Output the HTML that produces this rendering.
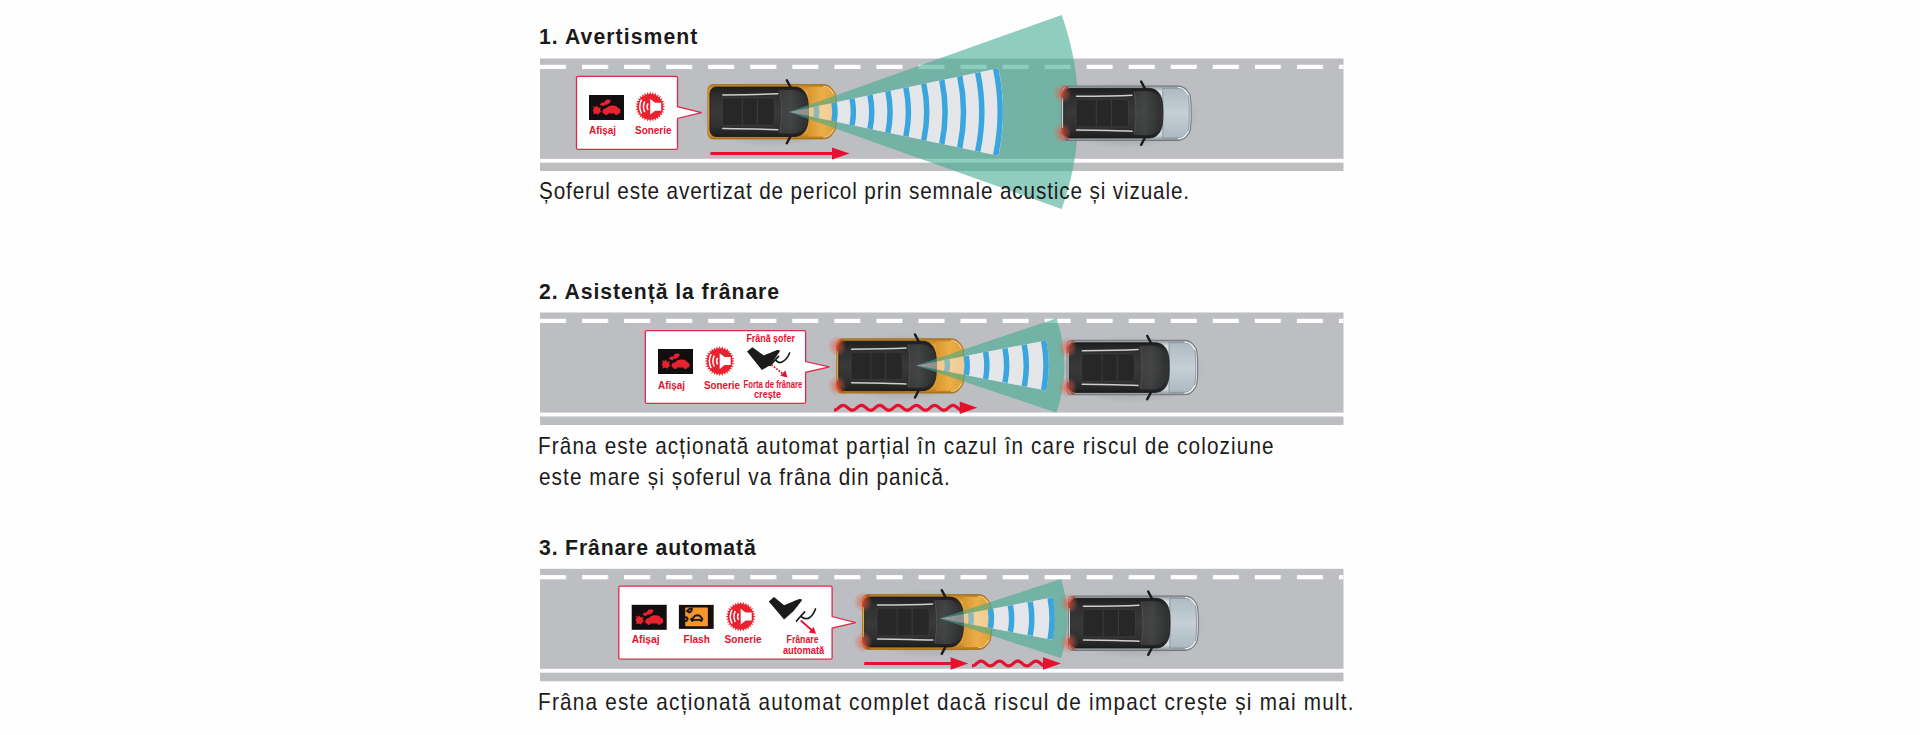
<!DOCTYPE html>
<html><head><meta charset="utf-8">
<style>
html,body{margin:0;padding:0;background:#fefefe;width:1920px;height:735px;overflow:hidden}
svg{display:block}
.h{font-family:"Liberation Sans",sans-serif;font-weight:700;font-size:22.8px;fill:#1a1a1a}
.t{font-family:"Liberation Sans",sans-serif;font-weight:400;font-size:23px;fill:#1c1c1c}
.lb{font-family:"Liberation Sans",sans-serif;font-weight:700;fill:#e5112e}
</style></head>
<body>
<svg width="1920" height="735" viewBox="0 0 1920 735">
<defs>
  <pattern id="dash" x="540" y="0" width="42.05" height="10" patternUnits="userSpaceOnUse">
    <rect x="0" y="0" width="26" height="10" fill="#fff"/>
  </pattern>

<linearGradient id="gOr" x1="0" y1="0" x2="0" y2="1">
  <stop offset="0" stop-color="#b97c1e"/><stop offset="0.12" stop-color="#e3a238"/>
  <stop offset="0.5" stop-color="#eeb14a"/><stop offset="0.88" stop-color="#dd9a30"/><stop offset="1" stop-color="#b5781c"/>
</linearGradient>
<linearGradient id="gHoodOr" x1="0" y1="0" x2="1" y2="0">
  <stop offset="0" stop-color="#d99630"/><stop offset="0.5" stop-color="#eaae48"/><stop offset="1" stop-color="#e0a03a"/>
</linearGradient>
<linearGradient id="gSv" x1="0" y1="0" x2="0" y2="1">
  <stop offset="0" stop-color="#8c9499"/><stop offset="0.1" stop-color="#d6dde1"/>
  <stop offset="0.5" stop-color="#e0e6e9"/><stop offset="0.9" stop-color="#d2d9dd"/><stop offset="1" stop-color="#868e93"/>
</linearGradient>
<linearGradient id="gHoodSv" x1="0" y1="0" x2="0" y2="1">
  <stop offset="0" stop-color="#aebbc2"/><stop offset="0.5" stop-color="#c4d0d6"/><stop offset="1" stop-color="#acb9c0"/>
</linearGradient>
<linearGradient id="gCab" x1="0" y1="0" x2="0" y2="1">
  <stop offset="0" stop-color="#1e1e1e"/><stop offset="0.2" stop-color="#303030"/><stop offset="0.5" stop-color="#393939"/><stop offset="0.8" stop-color="#303030"/><stop offset="1" stop-color="#1e1e1e"/>
</linearGradient>
<linearGradient id="gWind" x1="0" y1="0" x2="1" y2="0">
  <stop offset="0" stop-color="#414243"/><stop offset="0.4" stop-color="#4c4e4f"/><stop offset="1" stop-color="#2c2d2e"/>
</linearGradient>
<radialGradient id="gGlow">
  <stop offset="0" stop-color="#e84828" stop-opacity="0.7"/><stop offset="0.5" stop-color="#e06048" stop-opacity="0.4"/><stop offset="1" stop-color="#e06048" stop-opacity="0"/>
</radialGradient>
<radialGradient id="gShadow">
  <stop offset="0.7" stop-color="#000" stop-opacity="0.10"/><stop offset="1" stop-color="#000" stop-opacity="0"/>
</radialGradient>
<path id="carBodyP" d="M5.5,0.6 H116 C119.5,0.6 122,1.6 124.5,4.5 L127.6,8.8 C128.6,11.5 129.2,19 129.2,27.75 C129.2,36.5 128.6,44 127.6,46.7 L124.5,51 C122,53.9 119.5,54.9 116,54.9 H5.5 C2.6,54.9 0.6,52.6 0.6,49 V6.5 C0.6,2.9 2.6,0.6 5.5,0.6 Z"/>
<g id="carTop">
  <path d="M9,3 H87 C94.5,3 99,8 100.4,16 C101.4,21.5 101.4,34 100.4,39.5 C99,47.5 94.5,52.5 87,52.5 H9 C5,52.5 2.6,49.5 2.6,45 V10.5 C2.6,6 5,3 9,3 Z" fill="url(#gCab)" stroke="#161616" stroke-width="0.8"/>
  <path d="M72,6 H86 C93,6 97.5,11 98.8,17.5 C99.6,22.5 99.6,33 98.8,38 C97.5,44.5 93,49.5 86,49.5 H72 C74.5,38 74.5,17.5 72,6 Z" fill="url(#gWind)" opacity="0.65"/>
  <path d="M72.5,7 C75,17.5 75,38 72.5,48.5" stroke="#5a5c5d" stroke-width="0.6" fill="none"/>
  <path d="M16.5,14 H64 C66,14 67,15.5 67,18 V37.5 C67,40 66,41.5 64,41.5 H16.5 C15.5,41.5 15,41 15,40 V15.5 C15,14.5 15.5,14 16.5,14 Z" fill="#272727" stroke="#444" stroke-width="0.6"/>
  <path d="M35,14.5 V41 M50,14.5 V41" stroke="#3f3f3f" stroke-width="0.9"/>
  <path d="M15.5,11 C35,10.8 55,10.5 70.5,9.8 M15.5,44.5 C35,44.7 55,45 70.5,45.7" stroke="#cfcfcf" stroke-width="1.5" fill="none" stroke-linecap="round"/>
  <path d="M79.5,-3.8 L83,2.8 M79.5,59.3 L83,52.7" stroke="#1b1b1b" stroke-width="2.4" stroke-linecap="round"/>
</g>
<g id="carOrange">
  <use href="#carBodyP" fill="url(#gOr)" stroke="#9a6a18" stroke-width="0.8"/>
  <path d="M101,3 H115 C119,3 121.5,4 123.5,6.5 L126,10 C127,13 127.3,20 127.3,27.75 C127.3,35.5 127,42.5 126,45.5 L123.5,49 C121.5,51.5 119,52.5 115,52.5 H101 Z" fill="url(#gHoodOr)"/>
  <path d="M116,2.4 C119.5,2.4 121.5,3.5 123.5,6 L126.2,10 M116,53.1 C119.5,53.1 121.5,52 123.5,49.5 L126.2,45.5" stroke="#f8e0b0" stroke-width="0.9" fill="none"/>
  <use href="#carTop"/>
</g>
<g id="carSilver">
  <use href="#carBodyP" fill="url(#gSv)" stroke="#6f777c" stroke-width="1"/>
  <path d="M101,3 H115 C119,3 121.5,4 123.5,6.5 L126,10 C127,13 127.3,20 127.3,27.75 C127.3,35.5 127,42.5 126,45.5 L123.5,49 C121.5,51.5 119,52.5 115,52.5 H101 Z" fill="url(#gHoodSv)" stroke="#848d92" stroke-width="0.8"/>
  <path d="M116,2.2 C119.5,2.2 121.5,3.3 123.5,5.8 L126.4,10 M116,53.3 C119.5,53.3 121.5,52.2 123.5,49.7 L126.4,45.5" stroke="#f4f7f8" stroke-width="1" fill="none"/>
  <use href="#carTop"/>
</g>
<g id="glow">
  <ellipse cx="1" cy="8" rx="9.5" ry="10.5" fill="url(#gGlow)"/>
  <ellipse cx="1" cy="47.5" rx="9.5" ry="10.5" fill="url(#gGlow)"/>
  <path d="M1.2,13 C1.2,6.5 2.6,3 7.5,1.4 M1.2,42.5 C1.2,49 2.6,52.5 7.5,54.1" stroke="#b82a1a" stroke-width="1.5" fill="none" opacity="0.75"/>
</g>

<g id="dispIcon">
  <rect x="0" y="0" width="35" height="25" fill="#120d0e"/>
  <path d="M13.4,17.2 C13.4,15 14.5,13.6 17,13.2 L19.5,11.2 C21.5,10.2 25.5,10.2 27.6,11.4 L29.6,13.2 C31.3,13.8 31.6,15.2 31.5,17.4 L30.5,18.6 H14.2 Z" fill="#e8232f"/>
  <circle cx="17.2" cy="18.4" r="1.7" fill="#e8232f"/><circle cx="27.4" cy="18.4" r="1.7" fill="#e8232f"/>
  <path d="M3.8,11 L6.5,12.2 L7.5,10.5 L9.2,12.8 L11.8,12.2 L11,15 L12.3,16.8 L10,18.2 L9.5,19.8 L7,18.6 L4.6,19.5 L4.8,17 L3.5,15.2 L5,14 Z" fill="#e8232f"/>
  <path d="M10.6,9.8 L12.8,7.6 L15,7.4 L17,4.8 L19.5,4.4 L21.8,5.2 L21,7.8 L18.5,9.6 L16,9.8 L14.5,11.2 L12.5,10.6 Z" fill="#e8232f"/>
</g>
<g id="hornIcon">
  <path d="M0,-7.8 L4.9,-4 H11 V4 H4.9 L0,7.8 Z" fill="#fff"/>
  <path d="M-8.6,-7 Q-12.2,0 -8.6,7 M-5.4,-5.4 Q-8.2,0 -5.4,5.4 M-2.2,-3.3 Q-4,0 -2.2,3.3" fill="none" stroke="#fff" stroke-width="1.5"/>
</g>
<g id="footIcon">
  <path d="M0,4.5 L5.4,0.3 L16.8,8.4 C21,7 26,4.5 30.2,3.1 C32,2.6 33.5,3.6 32.6,4.8 L23.5,17.9 L14.9,23.1 Z" fill="#1b1b1b"/>
</g>

</defs>

<rect x="540" y="58.5" width="803.5" height="100.3" fill="#bdbec2"/>
<rect x="540" y="64.8" width="803.5" height="4.2" fill="url(#dash)"/>
<rect x="540" y="162.70000000000002" width="803.5" height="8.300000000000002" fill="#bdbec0"/>
<path d="M578.0,76.3 H676.0 Q677.5,76.3 677.5,77.8 V106.7 L701.7,112.6 L677.5,118.4 V147.9 Q677.5,149.4 676.0,149.4 H578.0 Q576.5,149.4 576.5,147.9 V77.8 Q576.5,76.3 578.0,76.3 Z" fill="#fff" stroke="#e1284a" stroke-width="1.3"/>
<g transform="translate(589,95)"><use href="#dispIcon"/></g>
<path d="M665.30,106.70 L662.04,107.87 L665.01,109.65 L661.59,110.15 L664.15,112.48 L660.69,112.31 L662.76,115.09 L659.40,114.25 L660.88,117.38 L657.75,115.90 L658.59,119.26 L655.81,117.19 L655.98,120.65 L653.65,118.09 L653.15,121.51 L651.37,118.54 L650.20,121.80 L649.03,118.54 L647.25,121.51 L646.75,118.09 L644.42,120.65 L644.59,117.19 L641.81,119.26 L642.65,115.90 L639.52,117.38 L641.00,114.25 L637.64,115.09 L639.71,112.31 L636.25,112.48 L638.81,110.15 L635.39,109.65 L638.36,107.87 L635.10,106.70 L638.36,105.53 L635.39,103.75 L638.81,103.25 L636.25,100.92 L639.71,101.09 L637.64,98.31 L641.00,99.15 L639.52,96.02 L642.65,97.50 L641.81,94.14 L644.59,96.21 L644.42,92.75 L646.75,95.31 L647.25,91.89 L649.03,94.86 L650.20,91.60 L651.37,94.86 L653.15,91.89 L653.65,95.31 L655.98,92.75 L655.81,96.21 L658.59,94.14 L657.75,97.50 L660.88,96.02 L659.40,99.15 L662.76,98.31 L660.69,101.09 L664.15,100.92 L661.59,103.25 L665.01,103.75 L662.04,105.53 Z" fill="#e8232f"/><circle cx="650.2" cy="106.7" r="12.8" fill="#e8232f"/><g transform="translate(650.2,106.7)"><use href="#hornIcon"/></g>
<text class="lb" x="589" y="133.7" font-size="11" textLength="27" lengthAdjust="spacingAndGlyphs">Afișaj</text>
<text class="lb" x="635" y="133.7" font-size="11" textLength="36.5" lengthAdjust="spacingAndGlyphs">Sonerie</text>
<g transform="translate(707.3,84) scale(1.0000,1.0000)"><ellipse cx="65" cy="29.5" rx="72" ry="34" fill="url(#gShadow)"/><use href="#carOrange"/></g>
<path d="M710.5,151.9 H833.0 V154.9 H710.5 Z" fill="#e5112e"/><path d="M832.0,147.4 L849.5,153.4 L832.0,159.4 Z" fill="#e5112e"/>
<path d="M789.0,112.0 L1061.7,14.9 A289.5,289.5 0 0 1 1061.7,209.1 Z M789.0,112.0 L998.5,68.2 A214,214 0 0 1 998.5,155.8 Z" fill="rgba(62,170,145,0.58)" fill-rule="evenodd"/>
<clipPath id="cin1"><rect x="836" y="0" width="600" height="735"/></clipPath>
<clipPath id="cout1"><rect x="0" y="0" width="836" height="735"/></clipPath>
<g clip-path="url(#cout1)"><path d="M789.0,112.0 L998.5,68.2 A214.0,214.0 0 0 1 998.5,155.8 Z" fill="rgba(255,255,255,0.45)" /></g>
<g clip-path="url(#cin1)"><path d="M789.0,112.0 L998.5,68.2 A214.0,214.0 0 0 1 998.5,155.8 Z" fill="#e5e6ea" /></g>
<path d="M816.1,106.3 A27.6,27.6 0 0 1 816.1,117.7" fill="none" stroke="#3aa6dd" stroke-width="5.5" opacity="0.55"/>
<path d="M834.0,102.6 A46.0,46.0 0 0 1 834.0,121.4" fill="none" stroke="#3aa6dd" stroke-width="5.5" opacity="1"/>
<path d="M852.0,98.8 A64.3,64.3 0 0 1 852.0,125.2" fill="none" stroke="#3aa6dd" stroke-width="5.5" opacity="1"/>
<path d="M870.0,95.1 A82.7,82.7 0 0 1 870.0,128.9" fill="none" stroke="#3aa6dd" stroke-width="5.5" opacity="1"/>
<path d="M887.9,91.3 A101.1,101.1 0 0 1 887.9,132.7" fill="none" stroke="#3aa6dd" stroke-width="5.5" opacity="1"/>
<path d="M905.9,87.6 A119.4,119.4 0 0 1 905.9,136.4" fill="none" stroke="#3aa6dd" stroke-width="5.5" opacity="1"/>
<path d="M923.8,83.8 A137.8,137.8 0 0 1 923.8,140.2" fill="none" stroke="#3aa6dd" stroke-width="5.5" opacity="1"/>
<path d="M941.8,80.1 A156.1,156.1 0 0 1 941.8,143.9" fill="none" stroke="#3aa6dd" stroke-width="5.5" opacity="1"/>
<path d="M959.8,76.3 A174.5,174.5 0 0 1 959.8,147.7" fill="none" stroke="#3aa6dd" stroke-width="5.5" opacity="1"/>
<path d="M977.7,72.6 A192.8,192.8 0 0 1 977.7,151.4" fill="none" stroke="#3aa6dd" stroke-width="5.5" opacity="1"/>
<path d="M995.7,68.8 A211.2,211.2 0 0 1 995.7,155.2" fill="none" stroke="#3aa6dd" stroke-width="5.5" opacity="1"/>
<g transform="translate(1061,85.3) scale(1.0078,1.0036)"><ellipse cx="65" cy="29.5" rx="72" ry="34" fill="url(#gShadow)"/><use href="#carSilver"/><use href="#glow"/></g>
<rect x="540" y="312.5" width="803.5" height="100.1" fill="#bdbec2"/>
<rect x="540" y="318.8" width="803.5" height="4.2" fill="url(#dash)"/>
<rect x="540" y="416.5" width="803.5" height="8.500000000000005" fill="#bdbec0"/>
<path d="M646.8,330.6 H804.1 Q805.6,330.6 805.6,332.1 V361.6 L829.5,366.8 L805.6,372.3 V401.9 Q805.6,403.4 804.1,403.4 H646.8 Q645.3,403.4 645.3,401.9 V332.1 Q645.3,330.6 646.8,330.6 Z" fill="#fff" stroke="#e1284a" stroke-width="1.3"/>
<g transform="translate(658,349)"><use href="#dispIcon"/></g>
<path d="M734.80,361.10 L731.54,362.27 L734.51,364.05 L731.09,364.55 L733.65,366.88 L730.19,366.71 L732.26,369.49 L728.90,368.65 L730.38,371.78 L727.25,370.30 L728.09,373.66 L725.31,371.59 L725.48,375.05 L723.15,372.49 L722.65,375.91 L720.87,372.94 L719.70,376.20 L718.53,372.94 L716.75,375.91 L716.25,372.49 L713.92,375.05 L714.09,371.59 L711.31,373.66 L712.15,370.30 L709.02,371.78 L710.50,368.65 L707.14,369.49 L709.21,366.71 L705.75,366.88 L708.31,364.55 L704.89,364.05 L707.86,362.27 L704.60,361.10 L707.86,359.93 L704.89,358.15 L708.31,357.65 L705.75,355.32 L709.21,355.49 L707.14,352.71 L710.50,353.55 L709.02,350.42 L712.15,351.90 L711.31,348.54 L714.09,350.61 L713.92,347.15 L716.25,349.71 L716.75,346.29 L718.53,349.26 L719.70,346.00 L720.87,349.26 L722.65,346.29 L723.15,349.71 L725.48,347.15 L725.31,350.61 L728.09,348.54 L727.25,351.90 L730.38,350.42 L728.90,353.55 L732.26,352.71 L730.19,355.49 L733.65,355.32 L731.09,357.65 L734.51,358.15 L731.54,359.93 Z" fill="#e8232f"/><circle cx="719.7" cy="361.1" r="12.8" fill="#e8232f"/><g transform="translate(719.7,361.1)"><use href="#hornIcon"/></g>
<text class="lb" x="658" y="388.5" font-size="11" textLength="27" lengthAdjust="spacingAndGlyphs">Afișaj</text>
<text class="lb" x="704" y="388.5" font-size="11" textLength="36" lengthAdjust="spacingAndGlyphs">Sonerie</text>
<text class="lb" x="746.4" y="342" font-size="10.5" textLength="48.5" lengthAdjust="spacingAndGlyphs">Frână șofer</text>
<path transform="translate(747,347)" d="M0,4.5 L5.4,0.3 L16.8,8.4 C21,7 26,4.5 30.2,3.1 C32,2.6 33.5,3.6 32.6,4.8 L23.5,17.9 L14.9,23.1 Z" fill="#1b1b1b"/>
<path d="M770,365.4 L778.6,356.3 M776.2,360.6 C778,362.5 780,363 782,362 C785,360.5 788,357 789.6,353" fill="none" stroke="#1b1b1b" stroke-width="1.7" stroke-linecap="round"/>
<path d="M771.5,364.9 L783.5,374.2" stroke="#e5112e" stroke-width="1.7" stroke-dasharray="1.7,1.3"/><path d="M787.5,377.5 L780.2,375.8 L785.4,370.6 Z" fill="#e5112e"/>
<text class="lb" x="743.6" y="387.9" font-size="10.5" textLength="58.8" lengthAdjust="spacingAndGlyphs">Forta de frânare</text>
<text class="lb" x="754" y="397.5" font-size="10.5" textLength="27" lengthAdjust="spacingAndGlyphs">crește</text>
<g transform="translate(836.2,338.2) scale(0.9907,1.0000)"><ellipse cx="65" cy="29.5" rx="72" ry="34" fill="url(#gShadow)"/><use href="#carOrange"/><use href="#glow"/></g>
<path d="M834,410.2 L834.50,410.16 L835.00,410.06 L835.50,409.89 L836.00,409.66 L836.50,409.37 L837.00,409.04 L837.50,408.67 L838.00,408.27 L838.50,407.86 L839.00,407.45 L839.50,407.05 L840.00,406.67 L840.50,406.33 L841.00,406.02 L841.50,405.77 L842.00,405.58 L842.50,405.46 L843.00,405.40 L843.50,405.42 L844.00,405.50 L844.50,405.65 L845.00,405.87 L845.50,406.14 L846.00,406.46 L846.50,406.82 L847.00,407.21 L847.50,407.61 L848.00,408.03 L848.50,408.43 L849.00,408.82 L849.50,409.17 L850.00,409.49 L850.50,409.76 L851.00,409.96 L851.50,410.11 L852.00,410.19 L852.50,410.19 L853.00,410.13 L853.50,410.00 L854.00,409.80 L854.50,409.55 L855.00,409.24 L855.50,408.89 L856.00,408.51 L856.50,408.11 L857.00,407.70 L857.50,407.29 L858.00,406.90 L858.50,406.53 L859.00,406.20 L859.50,405.92 L860.00,405.69 L860.50,405.53 L861.00,405.43 L861.50,405.40 L862.00,405.44 L862.50,405.55 L863.00,405.73 L863.50,405.97 L864.00,406.26 L864.50,406.60 L865.00,406.97 L865.50,407.37 L866.00,407.78 L866.50,408.19 L867.00,408.59 L867.50,408.96 L868.00,409.31 L868.50,409.60 L869.00,409.85 L869.50,410.03 L870.00,410.15 L870.50,410.20 L871.00,410.18 L871.50,410.09 L872.00,409.93 L872.50,409.71 L873.00,409.43 L873.50,409.11 L874.00,408.74 L874.50,408.35 L875.00,407.94 L875.50,407.53 L876.00,407.13 L876.50,406.75 L877.00,406.39 L877.50,406.08 L878.00,405.82 L878.50,405.62 L879.00,405.48 L879.50,405.41 L880.00,405.41 L880.50,405.48 L881.00,405.62 L881.50,405.82 L882.00,406.08 L882.50,406.39 L883.00,406.75 L883.50,407.13 L884.00,407.53 L884.50,407.94 L885.00,408.35 L885.50,408.74 L886.00,409.11 L886.50,409.43 L887.00,409.71 L887.50,409.93 L888.00,410.09 L888.50,410.18 L889.00,410.20 L889.50,410.15 L890.00,410.03 L890.50,409.85 L891.00,409.60 L891.50,409.31 L892.00,408.96 L892.50,408.59 L893.00,408.19 L893.50,407.78 L894.00,407.37 L894.50,406.97 L895.00,406.60 L895.50,406.26 L896.00,405.97 L896.50,405.73 L897.00,405.55 L897.50,405.44 L898.00,405.40 L898.50,405.43 L899.00,405.53 L899.50,405.69 L900.00,405.92 L900.50,406.20 L901.00,406.53 L901.50,406.90 L902.00,407.29 L902.50,407.70 L903.00,408.11 L903.50,408.51 L904.00,408.89 L904.50,409.24 L905.00,409.55 L905.50,409.80 L906.00,410.00 L906.50,410.13 L907.00,410.19 L907.50,410.19 L908.00,410.11 L908.50,409.96 L909.00,409.76 L909.50,409.49 L910.00,409.17 L910.50,408.82 L911.00,408.43 L911.50,408.03 L912.00,407.61 L912.50,407.21 L913.00,406.82 L913.50,406.46 L914.00,406.14 L914.50,405.87 L915.00,405.65 L915.50,405.50 L916.00,405.42 L916.50,405.40 L917.00,405.46 L917.50,405.58 L918.00,405.77 L918.50,406.02 L919.00,406.33 L919.50,406.67 L920.00,407.05 L920.50,407.45 L921.00,407.86 L921.50,408.27 L922.00,408.67 L922.50,409.04 L923.00,409.37 L923.50,409.66 L924.00,409.89 L924.50,410.06 L925.00,410.16 L925.50,410.20 L926.00,410.16 L926.50,410.06 L927.00,409.89 L927.50,409.66 L928.00,409.37 L928.50,409.04 L929.00,408.67 L929.50,408.27 L930.00,407.86 L930.50,407.45 L931.00,407.05 L931.50,406.67 L932.00,406.33 L932.50,406.02 L933.00,405.77 L933.50,405.58 L934.00,405.46 L934.50,405.40 L935.00,405.42 L935.50,405.50 L936.00,405.65 L936.50,405.87 L937.00,406.14 L937.50,406.46 L938.00,406.82 L938.50,407.21 L939.00,407.61 L939.50,408.03 L940.00,408.43 L940.50,408.82 L941.00,409.17 L941.50,409.49 L942.00,409.76 L942.50,409.96 L943.00,410.11 L943.50,410.19 L944.00,410.19 L944.50,410.13 L945.00,410.00 L945.50,409.80 L946.00,409.55 L946.50,409.24 L947.00,408.89 L947.50,408.51 L948.00,408.11 L948.50,407.70 L949.00,407.29 L949.50,406.90 L950.00,406.53 L950.50,406.20 L951.00,405.92 L951.50,405.69 L952.00,405.53 L952.50,405.43 L953.00,405.40 L953.50,405.44 L954.00,405.55 L954.50,405.73 L955.00,405.97 L955.50,406.26 L956.00,406.60 L956.50,406.97 L957.00,407.37 L957.50,407.78 L958.00,408.19 L958.50,408.59 L959.00,408.96 L959.50,409.31 L960.00,409.60 L960.50,409.85 L961.00,410.03 L961.50,410.15 L961.70,410.18" fill="none" stroke="#e5112e" stroke-width="3.2"/><path d="M959.7,401.6 L977.2,407.8 L959.7,414.0 Z" fill="#e5112e"/>
<path d="M916.2,365.5 L1056.5,318.3 A148,148 0 0 1 1056.5,412.7 Z M916.2,365.5 L1046.3,340.4 A132.5,132.5 0 0 1 1046.3,390.6 Z" fill="rgba(62,170,145,0.58)" fill-rule="evenodd"/>
<clipPath id="cin2"><rect x="964.2" y="0" width="600" height="735"/></clipPath>
<clipPath id="cout2"><rect x="0" y="0" width="964.2" height="735"/></clipPath>
<g clip-path="url(#cout2)"><path d="M916.2,365.5 L1046.3,340.4 A132.5,132.5 0 0 1 1046.3,390.6 Z" fill="rgba(255,255,255,0.45)" /></g>
<g clip-path="url(#cin2)"><path d="M916.2,365.5 L1046.3,340.4 A132.5,132.5 0 0 1 1046.3,390.6 Z" fill="#e5e6ea" /></g>
<path d="M946.9,359.6 A31.3,31.3 0 0 1 946.9,371.4" fill="none" stroke="#3aa6dd" stroke-width="5.5" opacity="0.55"/>
<path d="M966.3,355.9 A51.0,51.0 0 0 1 966.3,375.1" fill="none" stroke="#3aa6dd" stroke-width="5.5" opacity="1"/>
<path d="M985.6,352.1 A70.7,70.7 0 0 1 985.6,378.9" fill="none" stroke="#3aa6dd" stroke-width="5.5" opacity="1"/>
<path d="M1005.0,348.4 A90.4,90.4 0 0 1 1005.0,382.6" fill="none" stroke="#3aa6dd" stroke-width="5.5" opacity="1"/>
<path d="M1024.3,344.7 A110.1,110.1 0 0 1 1024.3,386.3" fill="none" stroke="#3aa6dd" stroke-width="5.5" opacity="1"/>
<path d="M1043.7,341.0 A129.8,129.8 0 0 1 1043.7,390.0" fill="none" stroke="#3aa6dd" stroke-width="5.5" opacity="1"/>
<g transform="translate(1066.5,339.7) scale(1.0155,1.0036)"><ellipse cx="65" cy="29.5" rx="72" ry="34" fill="url(#gShadow)"/><use href="#carSilver"/><use href="#glow"/></g>
<rect x="540" y="568.8" width="803.5" height="100" fill="#bdbec2"/>
<rect x="540" y="575.0999999999999" width="803.5" height="4.2" fill="url(#dash)"/>
<rect x="540" y="672.6999999999999" width="803.5" height="8.6" fill="#bdbec0"/>
<path d="M620.3,586.1 H830.6 Q832.1,586.1 832.1,587.6 V616.6 L855.8,622.7 L832.1,628.1 V657.7 Q832.1,659.2 830.6,659.2 H620.3 Q618.8,659.2 618.8,657.7 V587.6 Q618.8,586.1 620.3,586.1 Z" fill="#fff" stroke="#e1284a" stroke-width="1.3"/>
<g transform="translate(631.7,604.8)"><use href="#dispIcon"/></g>
<g transform="translate(678.9,604.9)"><rect x="0" y="0" width="34.8" height="24" fill="#141010"/><rect x="6.3" y="2.7" width="22.7" height="18.6" rx="0.8" fill="#f5962c"/><path d="M8,6 L10.5,4 L13,3.6 L12.5,6 L10.5,7.6 Z M5,13 L7.5,12.2 L8.8,14 L7.5,16.2 L5.2,15.6 Z M12.2,14.2 L14.5,12.8 L16,11 C17.5,10.2 19.5,10.2 21,11 L22.5,12.8 L23.5,14.2 L22.5,16 L20.8,15 H15 L13.4,16 Z" fill="none" stroke="#1a1a1a" stroke-width="1.9" stroke-linejoin="round"/></g>
<path d="M755.80,616.60 L752.54,617.77 L755.51,619.55 L752.09,620.05 L754.65,622.38 L751.19,622.21 L753.26,624.99 L749.90,624.15 L751.38,627.28 L748.25,625.80 L749.09,629.16 L746.31,627.09 L746.48,630.55 L744.15,627.99 L743.65,631.41 L741.87,628.44 L740.70,631.70 L739.53,628.44 L737.75,631.41 L737.25,627.99 L734.92,630.55 L735.09,627.09 L732.31,629.16 L733.15,625.80 L730.02,627.28 L731.50,624.15 L728.14,624.99 L730.21,622.21 L726.75,622.38 L729.31,620.05 L725.89,619.55 L728.86,617.77 L725.60,616.60 L728.86,615.43 L725.89,613.65 L729.31,613.15 L726.75,610.82 L730.21,610.99 L728.14,608.21 L731.50,609.05 L730.02,605.92 L733.15,607.40 L732.31,604.04 L735.09,606.11 L734.92,602.65 L737.25,605.21 L737.75,601.79 L739.53,604.76 L740.70,601.50 L741.87,604.76 L743.65,601.79 L744.15,605.21 L746.48,602.65 L746.31,606.11 L749.09,604.04 L748.25,607.40 L751.38,605.92 L749.90,609.05 L753.26,608.21 L751.19,610.99 L754.65,610.82 L752.09,613.15 L755.51,613.65 L752.54,615.43 Z" fill="#e8232f"/><circle cx="740.7" cy="616.6" r="12.8" fill="#e8232f"/><g transform="translate(740.7,616.6)"><use href="#hornIcon"/></g>
<text class="lb" x="631.7" y="643" font-size="11" textLength="27.9" lengthAdjust="spacingAndGlyphs">Afișaj</text>
<text class="lb" x="683.6" y="643" font-size="11" textLength="26.2" lengthAdjust="spacingAndGlyphs">Flash</text>
<text class="lb" x="724.6" y="643" font-size="11" textLength="37.1" lengthAdjust="spacingAndGlyphs">Sonerie</text>
<path transform="translate(768.8,597.1)" d="M0,4.3 L5.2,0 L15.3,8.2 C20,6.5 25,4 30.5,2 C32.3,1.5 33.8,2.4 32.9,3.6 L24.8,13.9 L15.3,22.5 Z" fill="#1b1b1b"/>
<path d="M796.5,621 L804.6,611.9 M801.2,616.7 C803,618.4 805.5,619 808,618.4 C811.5,617 814,613 815.5,609" fill="none" stroke="#1b1b1b" stroke-width="1.7" stroke-linecap="round"/>
<path d="M800.7,620.5 L812.2,630.5" stroke="#e5112e" stroke-width="1.7"/><path d="M816,633.8 L808.6,632.4 L813.6,627 Z" fill="#e5112e"/>
<text class="lb" x="786.6" y="643" font-size="10.5" textLength="31.9" lengthAdjust="spacingAndGlyphs">Frânare</text>
<text class="lb" x="782.9" y="653.8" font-size="10.5" textLength="41.4" lengthAdjust="spacingAndGlyphs">automată</text>
<g transform="translate(862,594) scale(1.0031,1.0090)"><ellipse cx="65" cy="29.5" rx="72" ry="34" fill="url(#gShadow)"/><use href="#carOrange"/><use href="#glow"/></g>
<path d="M864.2,662.0 H951.6 V665.0 H864.2 Z" fill="#e5112e"/><path d="M950.6,657.2 L968.2,663.5 L950.6,669.8 Z" fill="#e5112e"/>
<path d="M972,665.9 L972.50,665.86 L973.00,665.76 L973.50,665.59 L974.00,665.36 L974.50,665.07 L975.00,664.74 L975.50,664.37 L976.00,663.97 L976.50,663.56 L977.00,663.15 L977.50,662.75 L978.00,662.37 L978.50,662.03 L979.00,661.72 L979.50,661.47 L980.00,661.28 L980.50,661.16 L981.00,661.10 L981.50,661.12 L982.00,661.20 L982.50,661.35 L983.00,661.57 L983.50,661.84 L984.00,662.16 L984.50,662.52 L985.00,662.91 L985.50,663.31 L986.00,663.73 L986.50,664.13 L987.00,664.52 L987.50,664.87 L988.00,665.19 L988.50,665.46 L989.00,665.66 L989.50,665.81 L990.00,665.89 L990.50,665.89 L991.00,665.83 L991.50,665.70 L992.00,665.50 L992.50,665.25 L993.00,664.94 L993.50,664.59 L994.00,664.21 L994.50,663.81 L995.00,663.40 L995.50,662.99 L996.00,662.60 L996.50,662.23 L997.00,661.90 L997.50,661.62 L998.00,661.39 L998.50,661.23 L999.00,661.13 L999.50,661.10 L1000.00,661.14 L1000.50,661.25 L1001.00,661.43 L1001.50,661.67 L1002.00,661.96 L1002.50,662.30 L1003.00,662.67 L1003.50,663.07 L1004.00,663.48 L1004.50,663.89 L1005.00,664.29 L1005.50,664.66 L1006.00,665.01 L1006.50,665.30 L1007.00,665.55 L1007.50,665.73 L1008.00,665.85 L1008.50,665.90 L1009.00,665.88 L1009.50,665.79 L1010.00,665.63 L1010.50,665.41 L1011.00,665.13 L1011.50,664.81 L1012.00,664.44 L1012.50,664.05 L1013.00,663.64 L1013.50,663.23 L1014.00,662.83 L1014.50,662.45 L1015.00,662.09 L1015.50,661.78 L1016.00,661.52 L1016.50,661.32 L1017.00,661.18 L1017.50,661.11 L1018.00,661.11 L1018.50,661.18 L1019.00,661.32 L1019.50,661.52 L1020.00,661.78 L1020.50,662.09 L1021.00,662.45 L1021.50,662.83 L1022.00,663.23 L1022.50,663.64 L1023.00,664.05 L1023.50,664.44 L1024.00,664.81 L1024.50,665.13 L1025.00,665.41 L1025.50,665.63 L1026.00,665.79 L1026.50,665.88 L1027.00,665.90 L1027.50,665.85 L1028.00,665.73 L1028.50,665.55 L1029.00,665.30 L1029.50,665.01 L1030.00,664.66 L1030.50,664.29 L1031.00,663.89 L1031.50,663.48 L1032.00,663.07 L1032.50,662.67 L1033.00,662.30 L1033.50,661.96 L1034.00,661.67 L1034.50,661.43 L1035.00,661.25 L1035.50,661.14 L1036.00,661.10 L1036.50,661.13 L1037.00,661.23 L1037.50,661.39 L1038.00,661.62 L1038.50,661.90 L1039.00,662.23 L1039.50,662.60 L1040.00,662.99 L1040.50,663.40 L1041.00,663.81 L1041.50,664.21 L1042.00,664.59 L1042.50,664.94 L1043.00,665.25 L1043.50,665.50 L1044.00,665.70 L1044.50,665.83 L1045.00,665.89" fill="none" stroke="#e5112e" stroke-width="3.2"/><path d="M1043,657.2 L1061,663.5 L1043,669.8 Z" fill="#e5112e"/>
<path d="M939.8,618.6 L1061.0,579.0 A127.5,127.5 0 0 1 1061.0,658.2 Z M939.8,618.6 L1052.3,597.5 A114.5,114.5 0 0 1 1052.3,639.7 Z" fill="rgba(62,170,145,0.58)" fill-rule="evenodd"/>
<clipPath id="cin3"><rect x="991.4" y="0" width="600" height="735"/></clipPath>
<clipPath id="cout3"><rect x="0" y="0" width="991.4" height="735"/></clipPath>
<g clip-path="url(#cout3)"><path d="M939.8,618.6 L1052.3,597.5 A114.5,114.5 0 0 1 1052.3,639.7 Z" fill="rgba(255,255,255,0.45)" /></g>
<g clip-path="url(#cin3)"><path d="M939.8,618.6 L1052.3,597.5 A114.5,114.5 0 0 1 1052.3,639.7 Z" fill="#e5e6ea" /></g>
<path d="M970.7,612.8 A31.4,31.4 0 0 1 970.7,624.4" fill="none" stroke="#3aa6dd" stroke-width="5.5" opacity="0.55"/>
<path d="M990.5,609.1 A51.6,51.6 0 0 1 990.5,628.1" fill="none" stroke="#3aa6dd" stroke-width="5.5" opacity="1"/>
<path d="M1010.4,605.4 A71.8,71.8 0 0 1 1010.4,631.8" fill="none" stroke="#3aa6dd" stroke-width="5.5" opacity="1"/>
<path d="M1030.2,601.7 A92.0,92.0 0 0 1 1030.2,635.5" fill="none" stroke="#3aa6dd" stroke-width="5.5" opacity="1"/>
<path d="M1050.1,598.0 A112.2,112.2 0 0 1 1050.1,639.2" fill="none" stroke="#3aa6dd" stroke-width="5.5" opacity="1"/>
<g transform="translate(1067.8,595.3) scale(1.0109,1.0036)"><ellipse cx="65" cy="29.5" rx="72" ry="34" fill="url(#gShadow)"/><use href="#carSilver"/><use href="#glow"/></g>
<text class="h" transform="scale(0.93,1)" x="579.57" y="44.5" textLength="170.32">1. Avertisment</text>
<text class="t" transform="scale(0.9,1)" x="598.89" y="199" textLength="722.33">Șoferul este avertizat de pericol prin semnale acustice și vizuale.</text>
<text class="h" transform="scale(0.93,1)" x="579.57" y="299.4" textLength="258.17">2. Asistență la frânare</text>
<text class="t" transform="scale(0.9,1)" x="597.78" y="453.8" textLength="817.33">Frâna este acționată automat parțial în cazul în care riscul de coloziune</text>
<text class="t" transform="scale(0.9,1)" x="598.89" y="484.6" textLength="456.44">este mare și șoferul va frâna din panică.</text>
<text class="h" transform="scale(0.93,1)" x="579.57" y="555.4" textLength="233.01">3. Frânare automată</text>
<text class="t" transform="scale(0.9,1)" x="597.78" y="709.6" textLength="906.22">Frâna este acționată automat complet dacă riscul de impact crește și mai mult.</text>
</svg>
</body></html>
